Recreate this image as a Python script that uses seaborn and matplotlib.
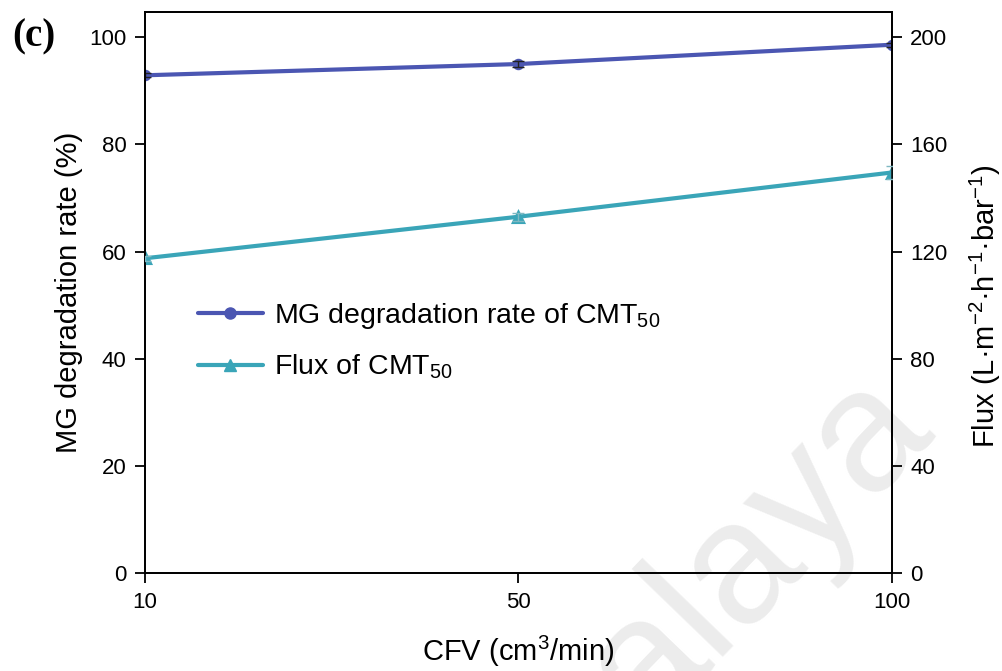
import matplotlib
matplotlib.use("Agg")
import matplotlib.pyplot as plt
from matplotlib.lines import Line2D
import seaborn as sns

cfv_labels = ["10", "50", "100"]
mg_rate = [92.9, 95.0, 98.6]
mg_err = [0.4, 0.6, 0.4]
flux = [117.5, 133.0, 149.5]
flux_err = [1.0, 1.5, 2.5]

mg_color = "#4b56b2"
flux_color = "#3aa5b8"

sns.set_style("ticks")
plt.rcParams["font.family"] = ["Liberation Sans", "DejaVu Sans"]
plt.rcParams["mathtext.fontset"] = "custom"
plt.rcParams["mathtext.rm"] = "Liberation Sans"
plt.rcParams["mathtext.it"] = "Liberation Sans:italic"
plt.rcParams["text.color"] = "black"
plt.rcParams["axes.labelcolor"] = "black"

fig = plt.figure(figsize=(10.03, 6.71), dpi=100)
ax = fig.add_axes([0.1446, 0.146, 0.7443, 0.836])

# watermark (behind everything)
ax.text(758 / 1003, 1 - 548 / 671, "alaya", transform=fig.transFigure,
        fontsize=125, color="#ececec", rotation=46, rotation_mode="anchor",
        ha="center", va="center", zorder=-5, clip_on=False)

sns.pointplot(x=cfv_labels, y=mg_rate, color=mg_color, markers="o",
              markersize=6, linewidth=3, errorbar=None, ax=ax)
ax.errorbar(range(len(cfv_labels)), mg_rate, yerr=mg_err, fmt="none",
            ecolor="#222222", elinewidth=1, capsize=4, zorder=5)
ax.set_xlim(0, 2)
ax.set_ylim(0, 104.7)
ax.set_yticks([0, 20, 40, 60, 80, 100])
ax.patch.set_alpha(0)

ax2 = ax.twinx()
sns.pointplot(x=cfv_labels, y=flux, color=flux_color, markers="^",
              markersize=7, linewidth=3, errorbar=None, ax=ax2)
ax2.errorbar(range(len(cfv_labels)), flux, yerr=flux_err, fmt="none",
             ecolor="#7fb8c2", elinewidth=1, capsize=4, zorder=5)
ax2.set_xlim(0, 2)
ax2.set_ylim(0, 209.4)
ax2.set_yticks([0, 40, 80, 120, 160, 200])

for a in (ax, ax2):
    for s in a.spines.values():
        s.set_linewidth(1.3)
        s.set_color("black")
    a.tick_params(axis="both", direction="out", length=7.5, width=1.3,
                  labelsize=16, colors="black", pad=6)

ax.set_xticks([0, 1, 2])
ax.set_xticklabels(cfv_labels)
ax.set_xlabel("CFV (cm$^{3}$/min)", fontsize=21, labelpad=15)
ax.set_ylabel("MG degradation rate (%)", fontsize=21, labelpad=4)
ax2.set_ylabel("Flux (L·m$^{-2}$·h$^{-1}$·bar$^{-1}$)", fontsize=21)
ax2.yaxis.set_label_coords(1.102, 0.475)

handles = [
    Line2D([0], [0], color=mg_color, lw=3, marker="o", markersize=8),
    Line2D([0], [0], color=flux_color, lw=3, marker="^", markersize=8),
]
labels = ["MG degradation rate of CMT$_{50}$", "Flux of CMT$_{50}$"]
ax2.legend(handles, labels, loc="upper left", bbox_to_anchor=(0.036, 0.53),
           frameon=False, fontsize=20.5, handlelength=2.3, labelspacing=0.76,
           handletextpad=0.4)

fig.text(0.012, 0.945, "(c)", fontsize=28, family=["Liberation Serif"],
         weight="bold", va="center", ha="left")

fig.savefig("out.png", dpi=100)
